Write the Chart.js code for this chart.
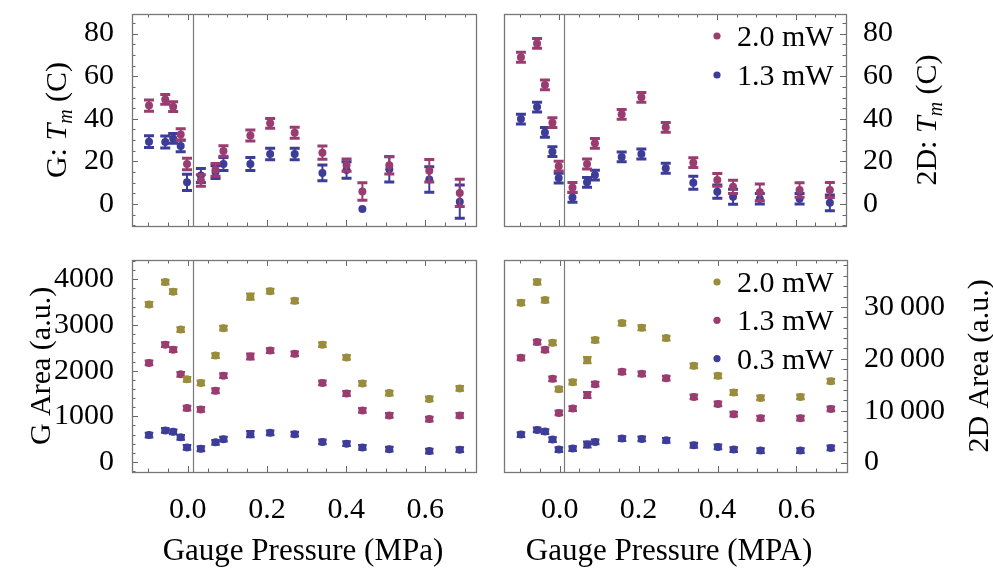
<!DOCTYPE html>
<html>
<head>
<meta charset="utf-8">
<script src="https://cdn.jsdelivr.net/npm/chart.js@4.4.1/dist/chart.umd.min.js"></script>
<style>
  html, body { margin: 0; padding: 0; background: #fff; }
  #wrap { position: relative; width: 993px; height: 569px; }
  #wrap canvas { position: absolute; left: 0; top: 0; }
</style>
</head>
<body>
<div id="wrap">
  <canvas id="gTemp" width="993" height="569"></canvas>
  <canvas id="dTemp" width="993" height="569"></canvas>
  <canvas id="gArea" width="993" height="569"></canvas>
  <canvas id="dArea" width="993" height="569"></canvas>
</div>
<script>
// gauge pressure of every measurement (MPa)
const pressure = [-0.098, -0.057, -0.037, -0.018, -0.002, 0.033, 0.070, 0.090, 0.158, 0.208, 0.270, 0.340, 0.401, 0.441, 0.509, 0.610, 0.687];

// G band temperature (C)
const gTemp20 = [46.2, 49.1, 45.7, 32.7, 18.8, 11.1, 16.0, 24.9, 32.2, 37.9, 33.5, 24.1, 18.3, 5.9, 18.2, 15.6, 5.2];
const gTemp20Err = [2.6, 2.3, 2.3, 2.6, 2.7, 2.7, 3.0, 2.5, 2.6, 2.3, 2.6, 3.1, 2.9, 4.1, 4.1, 5.3, 6.4];
const gTemp13 = [29.3, 29.1, 30.8, 27.2, 10.2, 13.4, 15.0, 18.8, 18.8, 23.5, 23.5, 14.6, 16.0, -2.3, 16.3, 11.5, 1.1];
const gTemp13Err = [2.8, 2.8, 2.3, 2.7, 3.8, 3.3, 3.0, 3.0, 3.0, 2.7, 2.7, 3.7, 3.9, 0, 5.9, 6.0, 7.8];

// 2D band temperature (C)
const dTemp20 = [68.9, 75.4, 55.9, 38.2, 17.8, 7.8, 18.8, 28.5, 42.1, 50.1, 36.0, 19.4, 11.3, 8.1, 5.5, 6.6, 6.6];
const dTemp20Err = [2.3, 2.3, 2.3, 2.3, 2.3, 2.3, 2.3, 2.3, 2.3, 2.3, 2.3, 2.3, 3.0, 3.1, 3.9, 3.4, 3.5];
const dTemp13 = [39.9, 45.5, 33.6, 24.6, 12.2, 3.1, 10.2, 13.6, 22.1, 23.5, 16.8, 10.0, 5.8, 3.4, 2.5, 2.5, 0.6];
const dTemp13Err = [2.3, 2.3, 2.3, 2.3, 2.3, 2.3, 2.3, 2.3, 2.3, 2.3, 2.3, 3.1, 3.1, 3.5, 2.5, 2.5, 3.7];

// G band area (a.u.)
const gArea20 = [3450, 3940, 3730, 2900, 1810, 1730, 2330, 2930, 3620, 3740, 3530, 2570, 2290, 1720, 1510, 1380, 1610];
const gArea13 = [2170, 2570, 2460, 1920, 1180, 1150, 1560, 1890, 2310, 2440, 2370, 1730, 1500, 1130, 1020, 940, 1020];
const gArea03 = [590, 690, 660, 540, 320, 290, 430, 500, 610, 640, 610, 440, 400, 320, 280, 240, 270];
const gAreaErr = [50, 50, 50, 50, 50, 50, 50, 50, 65, 50, 50, 50, 50, 50, 50, 50, 50];

// 2D band area (a.u.)
const dArea20 = [30810, 34810, 31330, 23090, 14150, 15500, 19750, 23610, 26890, 25990, 24000, 18650, 16720, 13510, 12470, 12660, 15690];
const dArea13 = [20190, 23220, 21740, 16140, 9580, 10420, 13050, 15120, 17490, 17100, 16270, 12660, 11310, 9320, 8550, 8550, 10350];
const dArea03 = [5400, 6300, 5980, 4440, 2510, 2700, 3470, 3980, 4630, 4560, 4300, 3340, 3010, 2510, 2320, 2320, 2820];
const dAreaErr = [440, 440, 440, 440, 440, 440, 560, 440, 440, 440, 440, 440, 440, 440, 440, 440, 440];

// tick labels
const xTicks = [0, 0.2, 0.4, 0.6];
const tempTicks = [0, 20, 40, 60, 80];
const gAreaTicks = [0, 1000, 2000, 3000, 4000];
const dAreaTicks = [0, 10000, 20000, 30000];

const BLUE = '#3d3d99', MAGENTA = '#993d71', GOLD = '#998c3d';
const SERIF = '"Liberation Serif", "Times New Roman", serif';
const FONT = { family: SERIF, size: 30 };

// vertical error bars with caps, drawn under each dataset's points
const errorBars = {
  id: 'errorBars',
  beforeDatasetDraw(chart, args, opts) {
    const ds = chart.data.datasets[args.index];
    if (!ds.errors) return;
    const { ctx, scales: { x, y } } = chart;
    const half = opts.capHalf;
    ctx.save();
    ctx.strokeStyle = ds.backgroundColor;
    ds.data.forEach((p, i) => {
      const e = ds.errors[i];
      if (!e) return;
      const px = x.getPixelForValue(p.x);
      const lo = y.getPixelForValue(p.y - e);
      const hi = y.getPixelForValue(p.y + e);
      ctx.lineWidth = opts.stem;
      ctx.beginPath();
      ctx.moveTo(px, lo); ctx.lineTo(px, hi);
      ctx.stroke();
      ctx.lineWidth = opts.cap;
      ctx.beginPath();
      ctx.moveTo(px - half, lo); ctx.lineTo(px + half, lo);
      ctx.moveTo(px - half, hi); ctx.lineTo(px + half, hi);
      ctx.stroke();
    });
    ctx.restore();
  }
};

// frame box, inward ticks and the zero-pressure line
const frame = {
  id: 'frame',
  beforeDatasetsDraw(chart) {
    const { ctx, chartArea: a, scales: { x } } = chart;
    const zx = Math.round(x.getPixelForValue(0.012)) + 0.5;
    ctx.save();
    ctx.strokeStyle = '#7a7a7a';
    ctx.lineWidth = 1.2;
    ctx.beginPath();
    ctx.moveTo(zx, a.top); ctx.lineTo(zx, a.bottom);
    ctx.stroke();
    ctx.restore();
  },
  afterDraw(chart, args, opts) {
    const { ctx, chartArea: a, scales: { x, y } } = chart;
    ctx.save();
    ctx.strokeStyle = '#666';
    ctx.lineWidth = 1;
    ctx.beginPath();
    const near = (v, step) => Math.abs(v / step - Math.round(v / step)) < 1e-6;
    for (let k = Math.ceil(x.min / 0.05); k * 0.05 <= x.max; k++) {
      const v = k * 0.05;
      const px = Math.round(x.getPixelForValue(v)) + 0.5;
      const len = near(v, 0.2) ? 6 : 3.5;
      ctx.moveTo(px, a.top); ctx.lineTo(px, a.top + len);
      ctx.moveTo(px, a.bottom); ctx.lineTo(px, a.bottom - len);
    }
    for (let k = Math.ceil(y.min / opts.minor); k * opts.minor <= y.max; k++) {
      const v = k * opts.minor;
      const py = Math.round(y.getPixelForValue(v)) + 0.5;
      const len = near(v, opts.major) ? 6 : 3.5;
      if (opts.side === 'left') { ctx.moveTo(a.left, py); ctx.lineTo(a.left + len, py); }
      else { ctx.moveTo(a.right, py); ctx.lineTo(a.right - len, py); }
    }
    ctx.stroke();
    ctx.strokeStyle = '#777';
    ctx.lineWidth = 1.3;
    ctx.strokeRect(Math.round(a.left) + 0.5, Math.round(a.top) + 0.5,
                   Math.round(a.right - a.left), Math.round(a.bottom - a.top));
    ctx.restore();
  }
};

// rotated y title with italic symbol and subscript, x title, and the inset legend
const labels = {
  id: 'labels',
  afterDraw(chart, args, opts) {
    const { ctx, chartArea: a } = chart;
    ctx.save();
    ctx.fillStyle = '#000';
    ctx.textBaseline = 'alphabetic';
    const parts = opts.title;
    let total = 0;
    parts.forEach(p => { ctx.font = p.font; total += ctx.measureText(p.text).width; });
    ctx.translate(opts.titleX, (a.top + a.bottom) / 2);
    ctx.rotate(-Math.PI / 2);
    let cx = -total / 2;
    parts.forEach(p => {
      ctx.font = p.font;
      ctx.fillText(p.text, cx, 10 + (p.dy || 0));
      cx += ctx.measureText(p.text).width;
    });
    ctx.setTransform(1, 0, 0, 1, 0, 0);
    if (opts.xTitle) {
      ctx.font = '31px ' + SERIF;
      ctx.textAlign = 'center';
      ctx.fillText(opts.xTitle, opts.xTitleX, 560);
      ctx.textAlign = 'left';
    }
    if (opts.legend) {
      const L = opts.legend;
      chart.data.datasets.forEach((ds, i) => {
        const cy = L.y + i * L.gap;
        ctx.fillStyle = ds.backgroundColor;
        ctx.beginPath();
        ctx.arc(L.x, cy, 3.6, 0, Math.PI * 2);
        ctx.fill();
        ctx.fillStyle = '#000';
        ctx.font = '30px ' + SERIF;
        ctx.fillText(ds.label, L.x + 20, cy + 10);
      });
    }
    ctx.restore();
  }
};

const upright = '30px ' + SERIF, italic = 'italic 30px ' + SERIF, sub = 'italic 20px ' + SERIF;

function makePanel(id, cfg) {
  return new Chart(document.getElementById(id), {
    type: 'scatter',
    data: {
      datasets: cfg.series.map(s => ({
        label: s.label,
        data: pressure.map((p, i) => ({ x: p, y: s.values[i] })),
        errors: s.errors,
        backgroundColor: s.color,
        borderWidth: 0,
        pointRadius: cfg.radius,
        pointHoverRadius: cfg.radius
      }))
    },
    options: {
      responsive: false,
      animation: false,
      events: [],
      layout: { padding: cfg.padding },
      plugins: {
        legend: { display: false },
        tooltip: { enabled: false },
        errorBars: cfg.bars,
        frame: { side: cfg.side, minor: cfg.minor, major: cfg.major },
        labels: { title: cfg.title, titleX: cfg.titleX, legend: cfg.legend,
                  xTitle: cfg.xTitle, xTitleX: cfg.xTitleX }
      },
      scales: {
        x: {
          type: 'linear',
          min: -0.141,
          max: 0.728,
          grid: { display: false },
          border: { display: false },
          afterBuildTicks: s => { s.ticks = xTicks.map(v => ({ value: v })); },
          afterFit: s => { s.height = cfg.xHeight; s.paddingLeft = 0; s.paddingRight = 0; },
          ticks: { display: cfg.xLabels, font: FONT, color: '#000', padding: 12,
                   maxRotation: 0, autoSkip: false, callback: v => v.toFixed(1) }
        },
        y: {
          type: 'linear',
          position: cfg.side,
          min: cfg.yMin,
          max: cfg.yMax,
          grid: { display: false },
          border: { display: false },
          afterBuildTicks: s => { s.ticks = cfg.yTicks.map(v => ({ value: v })); },
          afterFit: s => { s.width = cfg.yWidth; s.paddingTop = 0; s.paddingBottom = 0; },
          ticks: { font: FONT, color: '#000', padding: cfg.side === 'left' ? 10 : 9,
                   callback: cfg.yFormat || (v => String(v)) }
        }
      }
    },
    plugins: [errorBars, frame, labels]
  });
}

const tempBars = { stem: 2, cap: 3, capHalf: 5 };
const areaBars = { stem: 2, cap: 2.2, capHalf: 4.3 };

makePanel('gTemp', {
  padding: { left: 0, top: 14, right: 517, bottom: 343 },
  side: 'left', yWidth: 132, xHeight: 0, xLabels: false,
  yMin: -10.3, yMax: 89.2, yTicks: tempTicks, minor: 5, major: 20,
  radius: 4, bars: tempBars, titleX: 56,
  title: [{ text: 'G: ', font: upright }, { text: 'T', font: italic }, { text: 'm', font: sub, dy: 6 }, { text: ' (C)', font: upright }],
  series: [
    { label: '2.0 mW', values: gTemp20, errors: gTemp20Err, color: MAGENTA },
    { label: '1.3 mW', values: gTemp13, errors: gTemp13Err, color: BLUE }
  ]
});

makePanel('dTemp', {
  padding: { left: 504, top: 14, right: 0, bottom: 343 },
  side: 'right', yWidth: 147, xHeight: 0, xLabels: false,
  yMin: -10.3, yMax: 89.2, yTicks: tempTicks, minor: 5, major: 20,
  radius: 4, bars: tempBars, titleX: 926,
  title: [{ text: '2D: ', font: upright }, { text: 'T', font: italic }, { text: 'm', font: sub, dy: 6 }, { text: ' (C)', font: upright }],
  legend: { x: 717, y: 36, gap: 39 },
  series: [
    { label: '2.0 mW', values: dTemp20, errors: dTemp20Err, color: MAGENTA },
    { label: '1.3 mW', values: dTemp13, errors: dTemp13Err, color: BLUE }
  ]
});

makePanel('gArea', {
  padding: { left: 0, top: 260, right: 517, bottom: 0 },
  side: 'left', yWidth: 132, xHeight: 97, xLabels: true,
  xTitle: 'Gauge Pressure (MPa)', xTitleX: 303,
  yMin: -219, yMax: 4423, yTicks: gAreaTicks, minor: 200, major: 1000,
  radius: 4, bars: areaBars, titleX: 40,
  title: [{ text: 'G Area (a.u.)', font: upright }],
  series: [
    { label: '2.0 mW', values: gArea20, errors: gAreaErr, color: GOLD },
    { label: '1.3 mW', values: gArea13, errors: gAreaErr, color: MAGENTA },
    { label: '0.3 mW', values: gArea03, errors: gAreaErr, color: BLUE }
  ]
});

makePanel('dArea', {
  padding: { left: 504, top: 260, right: 0, bottom: 0 },
  side: 'right', yWidth: 146, xHeight: 97, xLabels: true,
  xTitle: 'Gauge Pressure (MPA)', xTitleX: 669,
  yMin: -1815, yMax: 39050, yTicks: dAreaTicks, minor: 2000, major: 10000,
  radius: 4, bars: areaBars, titleX: 978,
  yFormat: v => v === 0 ? '0' : String(v / 1000) + '\u2009000',
  title: [{ text: '2D Area (a.u.)', font: upright }],
  legend: { x: 717, y: 282, gap: 38.3 },
  series: [
    { label: '2.0 mW', values: dArea20, errors: dAreaErr, color: GOLD },
    { label: '1.3 mW', values: dArea13, errors: dAreaErr, color: MAGENTA },
    { label: '0.3 mW', values: dArea03, errors: dAreaErr, color: BLUE }
  ]
});
</script>
</body>
</html>
